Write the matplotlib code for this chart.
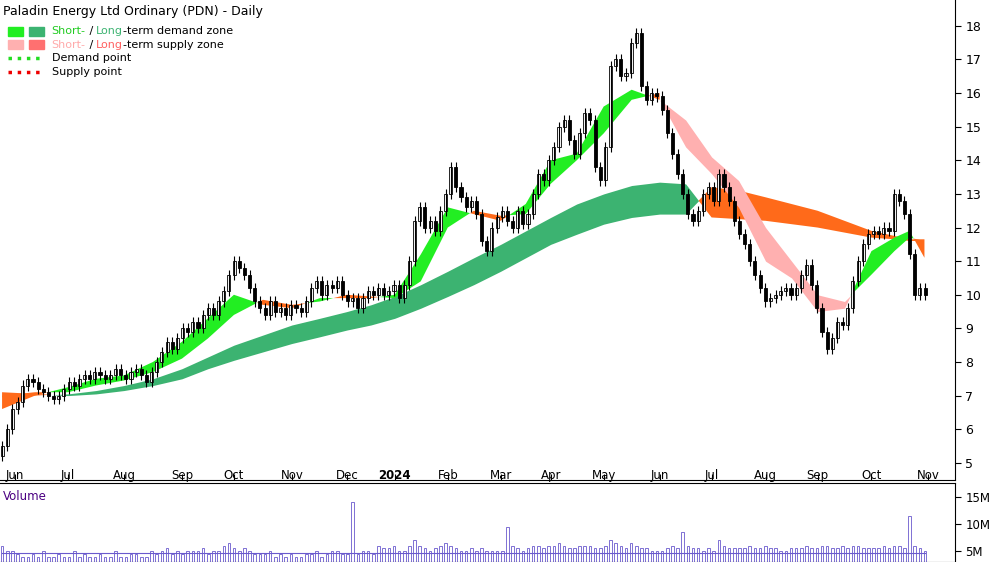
import numpy as np
import matplotlib
matplotlib.use("Agg")
import matplotlib.pyplot as plt
from matplotlib.patches import Rectangle

closes = [5.5,6.0,6.6,6.8,
 7.3,7.5,7.4,7.2,7.1,7.0,6.9,7.0,7.2,7.4,7.3,
 7.5,7.6,7.5,7.7,7.6,7.5,7.6,7.8,7.6,7.5,7.7,
 7.8,7.6,7.4,7.7,8.0,8.3,8.6,8.4,8.7,9.0,8.9,
 9.2,9.0,9.4,9.6,9.4,9.8,10.1,10.6,11.0,10.8,
 10.6,10.2,9.8,9.6,9.4,9.8,9.5,9.6,9.4,9.7,9.6,
 9.5,9.8,10.2,10.4,10.0,10.3,10.2,10.4,10.0,9.8,9.9,
 9.6,9.9,10.1,10.0,10.2,10.0,10.1,10.3,9.9,
 10.3,11.0,12.2,12.6,12.0,12.2,11.9,12.5,13.0,13.8,
 13.2,12.9,12.6,12.8,12.4,11.6,11.3,12.0,12.3,12.5,
 12.2,12.0,12.5,12.1,12.4,13.0,13.6,13.4,14.0,14.4,
 15.0,15.2,14.6,14.2,14.8,15.4,15.2,13.8,13.4,14.4,
 16.8,17.0,16.5,16.6,17.5,17.8,16.2,15.8,16.0,15.9,15.5,
 14.8,14.2,13.6,13.0,12.4,12.2,12.5,13.0,13.2,12.8,
 13.6,13.2,12.8,12.2,11.8,11.5,11.0,10.6,10.2,9.8,
 9.9,10.0,10.1,10.2,10.0,10.2,10.6,10.9,10.3,9.6,
 8.9,8.4,8.7,9.2,9.1,9.6,10.4,11.0,11.5,11.8,
 11.9,11.8,12.0,11.9,13.0,12.8,12.4,11.2,10.0,10.2,10.0]

volumes = [6,5,5,4.5, 4,4,4.5,4,5,4,4,4.5,4,4,5,
 4,4.5,4,4,4.5,4,4,5,4,4,4.5, 4.5,4,4,5,4.5,5,5.5,4.5,5,4.5,5,
 5,5,5.5,4.5,5,5,6,6.5,5.5,5, 5.5,5,4.5,4.5,4.5,5,4,4.5,4,4.5,4,
 4,4.5,4.5,5,4,4.5,5,5,4.5,4.5,14,
 4.5,5,5,4.5,6,5.5,5.5,6,5, 5,6,7,6,5.5,5,5.5,6,6.5,6,
 5.5,5,5,5.5,5,5.5,5,5,5,5, 9.5,6,5.5,5,5.5,6,6,5.5,6,6,
 6.5,6,5.5,5.5,6,6,6,5.5,5.5,6, 7,6.5,6,5.5,6.5,6,5.5,5.5,5,5,5,
 5.5,6,5.5,8.5,6,5.5,5.5,5,5.5,5, 7,6,5.5,5.5,5.5,5.5,6,5.5,5.5,6,
 5.5,5.5,5,5,5.5,5.5,5.5,6,5.5,5.5, 6,6,5.5,5.5,6,5.5,6,6,5.5,5.5,
 5.5,5.5,6,5.5,6,6,5.5,11.5,6,5.5,5]

band_px = [2,35,68,96,124,153,182,208,234,263,292,320,347,371,395,421,448,474,501,526,551,577,604,632,660,686,712,739,766,792,818,845,872,895,910,925]
st_a = [6.6,7.0,7.25,7.5,7.6,8.0,8.6,9.3,10.0,9.7,9.6,9.9,9.9,9.9,10.0,11.2,12.6,12.4,12.2,12.7,14.0,14.2,15.6,16.1,15.8,14.4,13.6,12.6,11.0,10.5,9.5,9.6,11.3,11.7,11.9,11.1]
st_b = [7.0,7.1,7.1,7.3,7.45,7.7,8.1,8.7,9.4,9.85,9.7,9.8,10.0,9.95,9.9,10.4,12.0,12.5,12.35,12.4,13.3,14.0,14.8,15.8,16.0,15.2,14.1,13.4,12.0,11.0,10.0,9.8,10.6,11.3,11.7,11.6]
lt_a = [6.95,7.0,7.05,7.15,7.3,7.5,7.8,8.15,8.5,8.8,9.1,9.3,9.5,9.7,9.95,10.3,10.7,11.1,11.5,11.9,12.3,12.7,13.0,13.25,13.35,13.3,12.3,12.25,12.2,12.1,12.0,11.85,11.7,11.65,11.6,11.6]
lt_b = [7.1,7.05,7.0,7.05,7.15,7.3,7.5,7.8,8.05,8.3,8.55,8.75,8.95,9.1,9.3,9.6,9.95,10.3,10.7,11.1,11.5,11.8,12.1,12.3,12.4,12.4,13.2,13.1,12.9,12.7,12.5,12.2,11.9,11.75,11.65,11.65]

months = ["Jun","Jul","Aug","Sep","Oct","Nov","Dec","2024","Feb","Mar","Apr","May","Jun","Jul","Aug","Sep","Oct","Nov"]
month_px = [15,68,124,182,234,292,347,395,448,501,551,604,660,712,766,818,872,929]

PX = 5.16
def ix(p): return (np.asarray(p, float) - 2) / PX

fig = plt.figure(figsize=(10, 5.62), dpi=100)
ax = fig.add_axes([0, 0.146, 0.955, 0.854])
axv = fig.add_axes([0, 0.0, 0.955, 0.14])

n = len(closes)
idx = np.arange(n)
opens = [closes[0] - 0.3] + closes[:-1]

bx = ix(band_px)
sa, sb, la, lb = map(np.array, (st_a, st_b, lt_a, lt_b))
ax.fill_between(bx, la, lb, where=la >= lb, interpolate=True, color="#3cb371", lw=0)
ax.fill_between(bx, la, lb, where=la < lb, interpolate=True, color="#ff6a1a", lw=0)
pink = (bx > ix(670)) & (bx < ix(850))
ax.fill_between(bx, sa, sb, where=sa >= sb, interpolate=True, color="#22ee22", lw=0)
ax.fill_between(bx, sa, sb, where=(sa < sb) & ~pink, interpolate=True, color="#ff6a1a", lw=0)
ax.fill_between(bx, sa, sb, where=(sa < sb) & pink, interpolate=True, color="#ffb0b0", lw=0)

for i in idx:
    o, c = opens[i], closes[i]
    hi, lo = max(o, c) + 0.15, min(o, c) - 0.15
    ax.vlines(i, lo, hi, color="black", lw=0.8)
    ax.add_patch(Rectangle((i - 0.3, min(o, c)), 0.6, max(abs(c - o), 0.03),
                 facecolor="white" if c >= o else "black", edgecolor="black", lw=0.6))

ax.set_xlim(-0.4, 184.8)
ax.set_ylim(4.49, 18.77)
ax.yaxis.tick_right()
ax.set_yticks(range(5, 19))
ax.tick_params(axis="y", labelsize=9, length=4)
ax.set_xticks(ix(month_px))
ax.set_xticklabels([])
ax.tick_params(axis="x", direction="in", length=4)
for m, p in zip(months, month_px):
    ax.text(ix(p), 4.62, m, ha="center", va="center", fontsize=8.5,
            fontweight="bold" if m == "2024" else "normal")
for s in ["top", "left"]:
    ax.spines[s].set_visible(False)

ax.text(0.003, 0.99, "Paladin Energy Ltd Ordinary (PDN) - Daily", transform=ax.transAxes,
        fontsize=9, va="top")
leg = [("#22ee22", "#3cb371", [("Short-", "#22cc22"), (" / ", "black"), ("Long", "#3cb371"), ("-term demand zone", "black")]),
       ("#ffb0b0", "#ff7070", [("Short-", "#ffaaaa"), (" / ", "black"), ("Long", "#ff6060"), ("-term supply zone", "black")])]
y0 = 0.935
for k, (c1, c2, parts) in enumerate(leg):
    y = y0 - k * 0.028
    ax.add_patch(Rectangle((0.008, y - 0.009), 0.016, 0.018, transform=ax.transAxes, color=c1))
    ax.add_patch(Rectangle((0.030, y - 0.009), 0.016, 0.018, transform=ax.transAxes, color=c2))
    t = None
    for txt, col in parts:
        if t is None:
            t = ax.text(0.054, y, txt, transform=ax.transAxes, fontsize=8, color=col, va="center")
        else:
            t = ax.annotate(txt, xycoords=t, xy=(1, 0), va="bottom", fontsize=8, color=col)
for k, (col, lab) in enumerate([("#22dd22", "Demand point"), ("#ee0000", "Supply point")]):
    y = y0 - (k + 2) * 0.028
    ax.plot([0.008, 0.046], [y, y], transform=ax.transAxes, color=col, ls=":", lw=2.5)
    ax.text(0.054, y, lab, transform=ax.transAxes, fontsize=8, va="center")

axv.bar(idx, volumes, width=0.5, color="white", edgecolor="#6a5acd", lw=0.6, bottom=0)
axv.plot(idx, [4.7] * n, color="#6a5acd", lw=0.8)
axv.set_xlim(-0.4, 184.8)
axv.set_ylim(3.0, 17.5)
axv.yaxis.tick_right()
axv.set_yticks([5, 10, 15])
axv.set_yticklabels(["5M", "10M", "15M"])
axv.tick_params(axis="y", labelsize=8.5, length=4)
axv.set_xticks([])
axv.spines["left"].set_visible(False)
axv.text(0.003, 0.92, "Volume", transform=axv.transAxes, fontsize=8.5, color="#4b0082", va="top")

fig.savefig("out.png", dpi=100)
